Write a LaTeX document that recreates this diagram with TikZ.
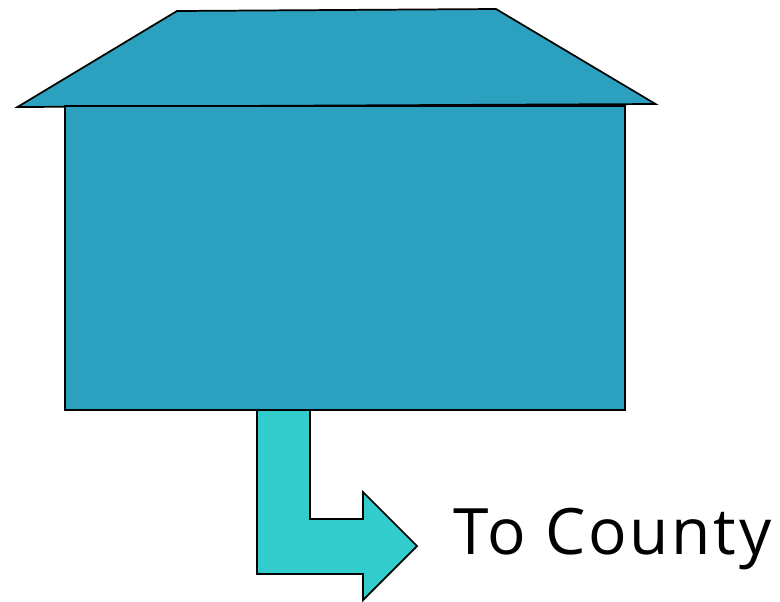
\documentclass[tikz,border=0pt]{standalone}
\usepackage{fontspec}
\setmainfont[LetterSpace=4.4,Kerning=Off]{Open Sans}
\usepackage{tikz}
\usetikzlibrary{positioning}
\definecolor{houseblue}{HTML}{2CA1BF}
\definecolor{pipeteal}{HTML}{33CCCC}

\begin{document}
\begin{tikzpicture}[
  x=0.75pt, y=-0.75pt,
  house/.style={draw, line width=1.3pt, line join=miter, fill=houseblue},
  pipe/.style={draw, line width=1.3pt, line join=miter, fill=pipeteal},
  caption/.style={font=\fontsize{48}{58}\selectfont, inner sep=0pt, anchor=base west}
]
\useasboundingbox (0,0) rectangle (780,601);

% roof
\draw[house] (17.5,107) -- (177,11) -- (496,9) -- (655.5,104) -- cycle;

% walls
\draw[house] (65,106) rectangle (625,410);

% arrow
\draw[pipe] (257,410) -- (310,410) -- (310,519) -- (363,519) -- (363,492)
  -- (417,546) -- (363,600) -- (363,574) -- (257,574) -- cycle;

\node[caption] (label) at (453,554) {To County};

\end{tikzpicture}
\end{document}
